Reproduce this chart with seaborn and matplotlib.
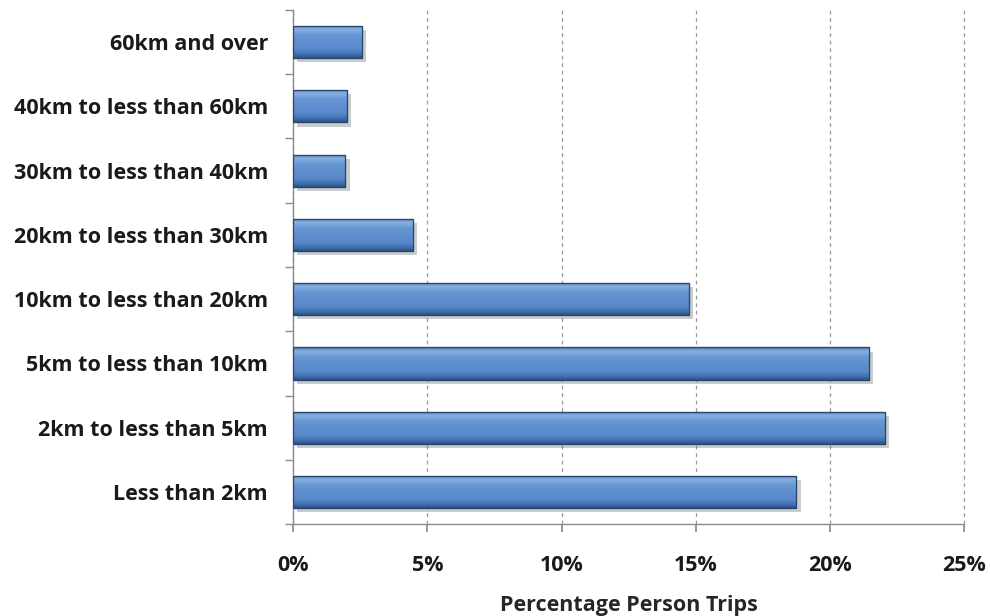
import numpy as np
import pandas as pd
import matplotlib
matplotlib.use("Agg")
import matplotlib.pyplot as plt
import matplotlib.patheffects as pe
from matplotlib.ticker import FixedLocator, PercentFormatter
import seaborn as sns

categories = [
    "60km and over",
    "40km to less than 60km",
    "30km to less than 40km",
    "20km to less than 30km",
    "10km to less than 20km",
    "5km to less than 10km",
    "2km to less than 5km",
    "Less than 2km",
]
shares = [2.55, 2.0, 1.95, 4.45, 14.75, 21.45, 22.05, 18.75]
x_ticks = [0, 5, 10, 15, 20, 25]

df = pd.DataFrame({"band": categories, "share": shares})

sns.set_theme(style="white")
plt.rcParams["font.family"] = ["Open Sans", "DejaVu Sans"]
plt.rcParams["font.weight"] = "bold"

fig = plt.figure(figsize=(9.9, 6.16), dpi=100)
ax = fig.add_axes([0.296, 0.149, 0.678, 0.835])

sns.barplot(data=df, y="band", x="share", orient="h", width=0.5,
            color="#4F81BD", saturation=1, edgecolor="#2A4E7E", linewidth=0.8,
            ax=ax, zorder=3)

# bevelled gradient fill + soft drop shadow on every bar
grad = np.linspace(0, 1, 64).reshape(-1, 1)
cmap = matplotlib.colors.LinearSegmentedColormap.from_list(
    "bevel", [(0.0, "#4A7AB8"), (0.12, "#8AB0E0"), (0.3, "#6796D4"),
              (0.75, "#5788CA"), (0.9, "#4170AC"), (1.0, "#2D5186")])
for p in ax.patches:
    x0, y0 = p.get_x(), p.get_y()
    w, h = p.get_width(), p.get_height()
    p.set_path_effects([pe.SimplePatchShadow(offset=(3, -3), alpha=0.3,
                                             shadow_rgbFace="#555555"),
                        pe.Normal()])
    im = ax.imshow(grad, extent=(x0, x0 + w, y0 + h, y0), aspect="auto",
                   cmap=cmap, zorder=3.5, interpolation="bicubic")
    im.set_clip_path(p)
    ax.add_patch(matplotlib.patches.Rectangle((x0, y0), w, h, fill=False,
                                              edgecolor="#24466F", lw=0.9,
                                              zorder=4))

ax.set_xlim(0, 25)
ax.set_ylim(7.5, -0.5)
ax.xaxis.set_major_locator(FixedLocator(x_ticks))
ax.xaxis.set_major_formatter(PercentFormatter(decimals=0))
ax.grid(axis="x", color="#9a9a9a", linestyle=(0, (3, 3)), linewidth=0.9, zorder=0)
ax.set_axisbelow(True)
for gl in ax.get_xgridlines():
    gl.set_clip_on(False)

for s in ["top", "right"]:
    ax.spines[s].set_visible(False)
for s in ["left", "bottom"]:
    ax.spines[s].set_color("#8c8c8c")
    ax.spines[s].set_linewidth(1.0)

ax.tick_params(axis="x", which="major", length=6, color="#8c8c8c",
               labelsize=15.5, pad=16, direction="out", bottom=True)
ax.tick_params(axis="y", which="major", length=0, labelsize=15.5, pad=18)
ax.yaxis.set_minor_locator(FixedLocator(np.arange(-0.5, 8, 1)))
ax.tick_params(axis="y", which="minor", length=6, color="#8c8c8c",
               direction="out", left=True)

ax.set_ylabel("")
ax.set_xlabel("Percentage Person Trips", fontsize=15.5, fontweight="bold",
              labelpad=14)
for t in ax.get_xticklabels() + ax.get_yticklabels():
    t.set_fontweight("bold")
    t.set_color("#1a1a1a")

fig.savefig("out.png", dpi=100, facecolor="white")
